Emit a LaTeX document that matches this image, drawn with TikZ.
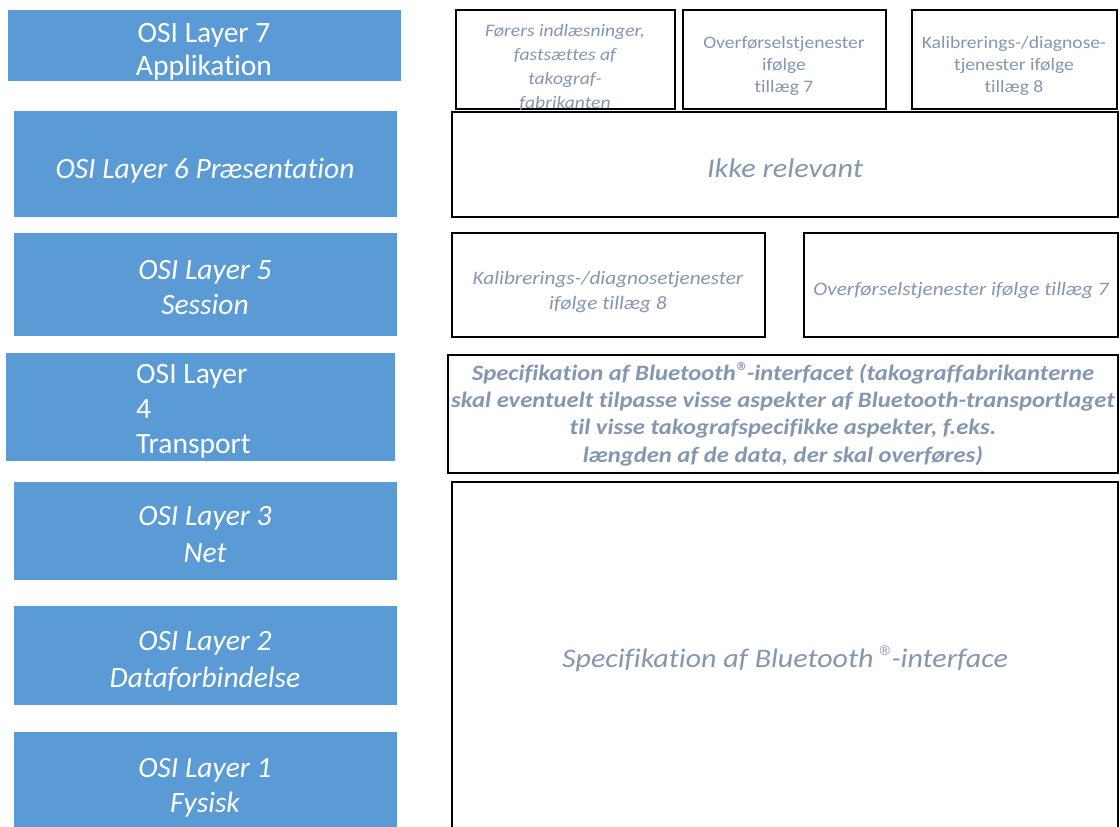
\documentclass[tikz,border=0pt]{standalone}
\usepackage{fontspec}
\usepackage{graphicx}
\setmainfont{Carlito}[Ligatures=NoCommon,Contextuals=NoAlternate]
\newfontfamily\widefont[FakeStretch=1.12,Ligatures=NoCommon,Contextuals=NoAlternate]{Carlito}
\newfontfamily\djvfont{DejaVu Sans}
\newcommand\regmark{\raisebox{0.42em}{\scalebox{0.5}{\djvfont ®}}}
\definecolor{osiblue}{HTML}{5B9BD5}
\definecolor{txtgray}{HTML}{8497B0}
\begin{document}
\begin{tikzpicture}[x=1pt,y=-1pt,
  blk/.style={draw=none, fill=osiblue, inner sep=0pt, outer sep=0pt, anchor=north west},
  wbox/.style={draw=black, line width=1.4pt, fill=white, inner sep=0pt, outer sep=0pt, anchor=north west},
  wt/.style={text=white, align=center, anchor=base, inner sep=0pt},
  gt/.style={text=txtgray, align=center, anchor=base, inner sep=0pt}]
\clip (0,0) rectangle (1120,827);
\fill[white] (0,0) rectangle (1120,827);
% left OSI layer boxes
\node[blk, minimum width=393pt, minimum height=71pt] (l7) at (8,10) {};
\node[blk, minimum width=383pt, minimum height=106pt] (l6) at (14,111) {};
\node[blk, minimum width=383pt, minimum height=103pt] (l5) at (14,233) {};
\node[blk, minimum width=389pt, minimum height=108pt] (l4) at (6,353) {};
\node[blk, minimum width=383pt, minimum height=98pt] (l3) at (14,482) {};
\node[blk, minimum width=383pt, minimum height=99pt] (l2) at (14,606) {};
\node[blk, minimum width=383pt, minimum height=110pt] (l1) at (14,732) {};
% right boxes
\node[wbox, minimum width=219pt, minimum height=99pt] (r7a) at (456,10) {};
\node[wbox, minimum width=203pt, minimum height=99pt] (r7b) at (683,10) {};
\node[wbox, minimum width=205pt, minimum height=99pt] (r7c) at (912,10) {};
\node[wbox, minimum width=666pt, minimum height=105pt] (r6) at (452,112) {};
\node[wbox, minimum width=313pt, minimum height=104pt] (r5a) at (452,233) {};
\node[wbox, minimum width=314pt, minimum height=104pt] (r5b) at (804,233) {};
\node[wbox, minimum width=670pt, minimum height=118pt] (r4) at (448,355) {};
\node[wbox, minimum width=666pt, minimum height=360pt] (r3) at (452,482) {};
% left texts (anchor base = last line's baseline)
\node[wt, font=\fontsize{29.5}{33}\selectfont] (t7) at (204,75) {OSI Layer 7\\Applikation};
\node[wt, font=\fontsize{29.5}{35}\selectfont\itshape] (t6) at (205,178) {OSI Layer 6 Præsentation};
\node[wt, font=\fontsize{29.5}{35}\selectfont\itshape] (t5) at (205,314) {OSI Layer 5\\Session};
\node[wt, align=left, anchor=base west, font=\fontsize{29.5}{35}\selectfont] (t4) at (136,453) {OSI Layer\\4\\Transport};
\node[wt, font=\fontsize{29.5}{37}\selectfont\itshape] (t3) at (205,562) {OSI Layer 3\\Net};
\node[wt, font=\fontsize{29.5}{37}\selectfont\itshape] (t2) at (205,687) {OSI Layer 2\\Dataforbindelse};
\node[wt, font=\fontsize{29.5}{35}\selectfont\itshape] (t1) at (205,812) {OSI Layer 1\\Fysisk};
% right texts
\node[gt, font=\widefont\fontsize{17.5}{24}\selectfont\itshape] (ta) at (565,108) {Førers indlæsninger,\\fastsættes af\\takograf-\\fabrikanten};
\node[gt, font=\widefont\fontsize{17.5}{22}\selectfont] (tb) at (784,92) {Overførselstjenester\\ifølge\\tillæg 7};
\node[gt, font=\widefont\fontsize{17.5}{22}\selectfont] (tc) at (1014,92) {Kalibrerings-/diagnose-\\tjenester ifølge\\tillæg 8};
\node[gt, font=\widefont\fontsize{27}{34}\selectfont\itshape] (t6r) at (785,177) {Ikke relevant};
\node[gt, font=\widefont\fontsize{19}{25}\selectfont\itshape] (t5a) at (608,309) {Kalibrerings-/diagnosetjenester\\ifølge tillæg 8};
\node[gt, font=\widefont\fontsize{19}{25}\selectfont\itshape] (t5b) at (961,295) {Overførselstjenester ifølge tillæg 7};
\node[gt, font=\widefont\fontsize{22}{27.3}\selectfont\bfseries\itshape] (t4r) at (783,462) {Specifikation af Bluetooth\regmark-interfacet (takograffabrikanterne\\skal eventuelt tilpasse visse aspekter af Bluetooth-transportlaget\\til visse takografspecifikke aspekter, f.eks.\\længden af de data, der skal overføres)};
\node[gt, font=\widefont\fontsize{26.8}{34}\selectfont\itshape] (t3r) at (785,667) {Specifikation af Bluetooth\,\regmark-interface};
\end{tikzpicture}
\end{document}
